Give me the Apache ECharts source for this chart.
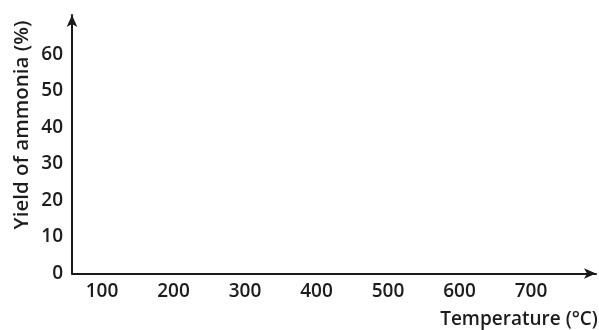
<!DOCTYPE html>
<html><head><meta charset="utf-8">
<script src="https://cdn.jsdelivr.net/npm/echarts@6/dist/echarts.min.js"></script>
<style>html,body{margin:0;padding:0;background:#fff}#c{width:599px;height:330px}</style>
</head><body><div id="c"></div>
<script>
const xTicks = [100, 200, 300, 400, 500, 600, 700];
const yTicks = [0, 10, 20, 30, 40, 50, 60];
const seriesData = []; // the reference plot contains no data marks
const xName = 'Temperature (°C)';
const yName = 'Yield of ammonia (%)';

const chart = echarts.init(document.getElementById('c'));
const font = 'Open Sans';
const txt = '#1c1c1c';
chart.setOption({
  animation: false,
  grid: {left: 72, right: 3, top: 15, bottom: 56.5},
  xAxis: {
    type: 'value', min: 58, max: 791,
    axisLine: {lineStyle: {color: '#1a1a1a', width: 2}, symbol: ['none', 'arrow'], symbolSize: [8, 12]},
    axisTick: {show: false},
    splitLine: {show: false},
    axisLabel: {customValues: xTicks, color: txt, fontFamily: font, fontWeight: 600, fontSize: 19, margin: 9}
  },
  yAxis: {
    type: 'value', min: 0, max: 70.8,
    axisLine: {show: true, lineStyle: {color: '#1a1a1a', width: 2}, symbol: ['none', 'arrow'], symbolSize: [8, 12]},
    axisTick: {show: false},
    splitLine: {show: false},
    axisLabel: {customValues: yTicks, color: txt, fontFamily: font, fontWeight: 600, fontSize: 19, margin: 9}
  },
  graphic: [{
    type: 'text', x: 519, y: 320,
    style: {text: xName, fill: txt, font: '600 19px "Open Sans"', align: 'center', verticalAlign: 'middle'}
  }, {
    type: 'text', x: 22, y: 125, rotation: Math.PI / 2,
    style: {text: yName, fill: txt, font: '600 20.5px "Open Sans"', align: 'center', verticalAlign: 'middle'}
  }],
  series: [{type: 'line', data: seriesData, symbol: 'none'}]
});
</script></body></html>
